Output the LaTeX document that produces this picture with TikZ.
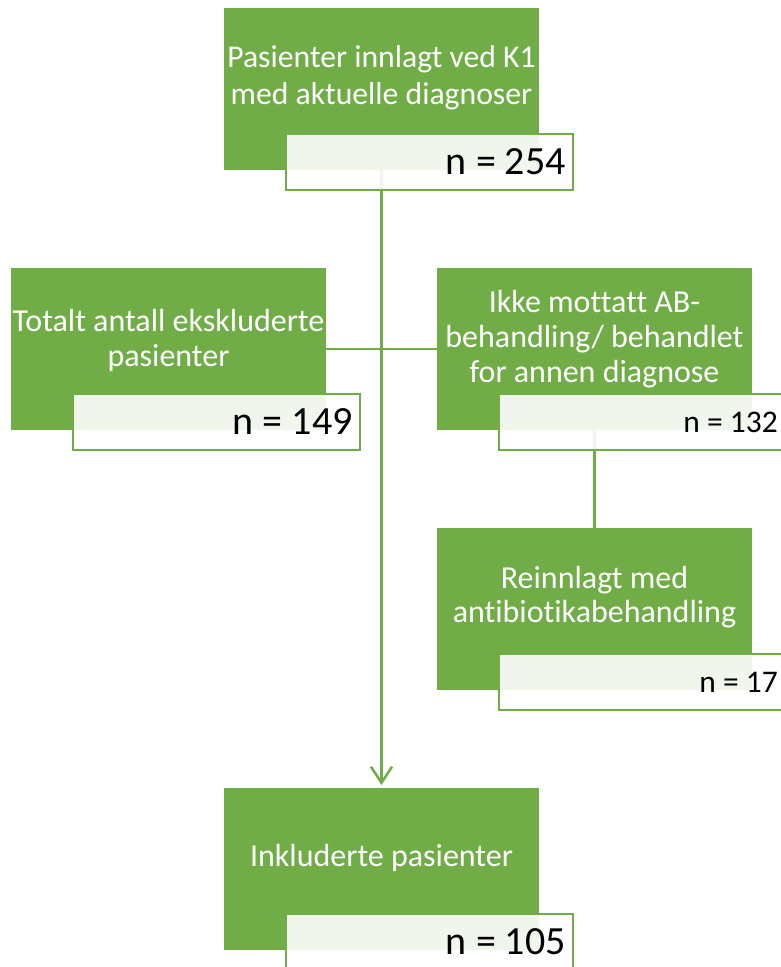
\documentclass[tikz,border=0pt]{standalone}
\usepackage{fontspec}
\setmainfont{Carlito}[Ligatures=NoCommon]
\usetikzlibrary{calc,arrows.meta}
\definecolor{gr}{HTML}{70AD47}
\begin{document}
\begin{tikzpicture}[x=1pt,y=-1pt,
 gbox/.style={fill=gr,draw=none,minimum width=315pt,minimum height=162pt,inner sep=0pt,outer sep=0pt,anchor=north west},
 wbox/.style={fill=white,fill opacity=0.9,draw=gr,line width=2.5pt,minimum width=287pt,minimum height=56pt,inner sep=0pt,outer sep=0pt,anchor=north west},
 maintxt/.style={text=white,align=center,font=\fontsize{32}{35}\selectfont,inner sep=0pt},
 bign/.style={text=black,anchor=east,font=\fontsize{40}{45}\selectfont,inner sep=0pt},
 smalln/.style={text=black,anchor=east,font=\fontsize{31.5}{36}\selectfont,inner sep=0pt},
 conn/.style={draw=gr,line width=2.5pt}]
\useasboundingbox (0,0) rectangle (780,967);
% green boxes
\node[gbox] (tg) at (224,8) {};
\node[gbox] (lg) at (11,268) {};
\node[gbox] (rg) at (437,268) {};
\node[gbox] (ig) at (437,528) {};
\node[gbox] (bg) at (224,788) {};
% connectors
\draw[conn,-{Straight Barb[length=16pt,width=21pt]},shorten >=3pt] (tg.south) -- (bg.north);
\draw[conn] (lg.east) -- (rg.west);
\draw[conn] (rg.south) -- (ig.north);
% white boxes
\node[wbox] (tw) at (286,134) {};
\node[wbox] (lw) at (73,394) {};
\node[wbox] (rw) at (499,394) {};
\node[wbox] (iw) at (499,654) {};
\node[wbox] (bw) at (286,914) {};
% texts
\node[maintxt,font=\fontsize{31.7}{37}\selectfont] (t1) at ($(tg.north)+(0,70)$) {Pasienter innlagt ved K1\\med aktuelle diagnoser};
\node[maintxt] (t2) at ($(lg.north)+(0,72)$) {Totalt antall ekskluderte\\pasienter};
\node[maintxt] (t3) at ($(rg.north)+(0,71)$) {Ikke mottatt AB-\\behandling/ behandlet\\for annen diagnose};
\node[maintxt,font=\fontsize{32}{34}\selectfont] (t4) at ($(ig.north)+(0,69)$) {Reinnlagt med\\antibiotikabehandling};
\node[maintxt] (t5) at ($(bg.north)+(0,70)$) {Inkluderte pasienter};
\node[bign] (n1) at ($(tw.east)+(-7,0)$) {n = 254};
\node[bign] (n2) at ($(lw.east)+(-7,0)$) {n = 149};
\node[smalln] (n3) at ($(rw.east)+(-8,0)$) {n = 132};
\node[smalln] (n4) at ($(iw.east)+(-8,0)$) {n = 17};
\node[bign] (n5) at ($(bw.east)+(-7,0)$) {n = 105};
\end{tikzpicture}
\end{document}
